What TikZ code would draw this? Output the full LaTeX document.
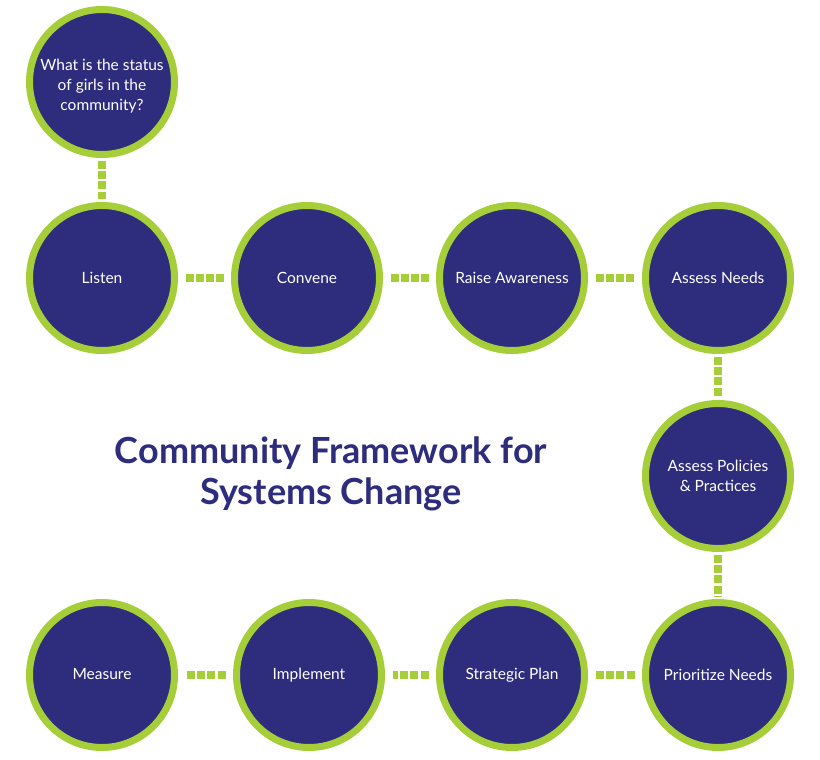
\documentclass[tikz,border=0pt]{standalone}
\usepackage{fontspec}
\setmainfont{Lato}
\definecolor{navy}{HTML}{2E2C7D}
\definecolor{lime}{HTML}{A6CE39}
\begin{document}
\begin{tikzpicture}[x=1pt,y=-1pt,
  stage/.style={circle,fill=navy,draw=lime,line width=7pt,minimum size=145pt,inner sep=0pt,
    text=white,font=\fontsize{15.5}{20}\selectfont,align=center},
  stagetext/.style={text=white,font=\fontsize{15.5}{20}\selectfont,align=center},
  conn/.style={draw=lime,line width=8pt,dash pattern=on 8pt off 2.2pt},
  hconn/.style={conn,shorten <=7.5pt,shorten >=7.5pt},
  vconn/.style={conn,shorten <=3pt,shorten >=3pt}]
\useasboundingbox (0,0) rectangle (820,760);
\fill[white] (0,0) rectangle (820,760);
\node[stage,label={[stagetext,yshift=-4pt]center:What is the status\\of girls in the\\community?}] (q) at (102,82) {};
\node[stage] (listen) at (102,278) {Listen};
\node[stage] (convene) at (307,278) {Convene};
\node[stage] (raise) at (512,278) {Raise Awareness};
\node[stage] (needs) at (718,278) {Assess Needs};
\node[stage] (policies) at (718,476) {Assess Policies\\\& Practices};
\node[stage] (prior) at (718,675) {Prioritize Needs};
\node[stage] (plan) at (512,675) {Strategic Plan\vphantom{y}};
\node[stage] (impl) at (309,675) {Implement\vphantom{y}};
\node[stage] (meas) at (102,675) {Measure\vphantom{y}};
\draw[vconn] (q) -- (listen);
\draw[hconn] (listen) -- (convene);
\draw[hconn] (convene) -- (raise);
\draw[hconn] (raise) -- (needs);
\draw[vconn] (needs) -- (policies);
\draw[vconn] (policies) -- (prior);
\draw[hconn] (prior) -- (plan);
\draw[hconn] (plan) -- (impl);
\draw[hconn] (impl) -- (meas);
\node[text=navy,font=\bfseries\fontsize{36}{41}\selectfont,align=center] (title) at (331,474)
  {Community Framework for\\Systems Change};
\end{tikzpicture}
\end{document}
